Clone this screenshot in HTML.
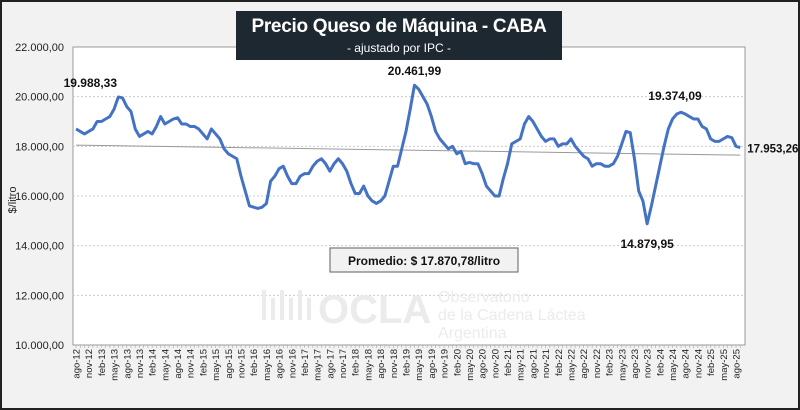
<!DOCTYPE html>
<html><head><meta charset="utf-8"><style>
body{margin:0;width:800px;height:410px;overflow:hidden;background:#fff;font-family:"Liberation Sans",sans-serif}
#frame{position:absolute;left:0;top:0;width:796px;height:406px;border:2px solid #222;background:#f2f2f2}
#title{position:absolute;left:236px;top:11px;width:326px;height:49px;background:#1e2830;color:#fff;text-align:center;z-index:3;white-space:nowrap}
#title .t{font-size:19px;font-weight:bold;margin-top:5px;letter-spacing:-0.3px}
#title .s{font-size:12px;margin-top:3px}
</style></head><body>
<div id="frame"></div>
<div id="title"><div class="t">Precio Queso de Máquina - CABA</div><div class="s">- ajustado por IPC -</div></div>
<svg id="c" width="800" height="410" style="position:absolute;left:0;top:0"></svg>
<script>
const values=[18700,18600,18500,18600,18700,19000,19000,19100,19200,19500,19988.33,19950,19600,19400,18700,18400,18500,18600,18500,18800,19200,18900,19000,19100,19150,18900,18900,18800,18800,18700,18500,18300,18700,18500,18300,17900,17700,17600,17500,16800,16200,15600,15550,15500,15550,15700,16600,16800,17100,17200,16800,16500,16500,16800,16900,16900,17200,17400,17500,17300,17000,17300,17500,17300,17000,16500,16100,16100,16400,16000,15800,15700,15800,16000,16600,17200,17200,17900,18600,19500,20461.99,20300,20000,19700,19200,18600,18300,18100,17900,18000,17700,17800,17300,17350,17300,17300,16900,16400,16200,16000,16000,16700,17300,18100,18200,18300,18900,19200,19000,18700,18400,18200,18300,18300,18000,18100,18100,18300,18000,17800,17600,17500,17200,17300,17300,17200,17200,17300,17600,18100,18600,18550,17500,16200,15800,14879.95,15600,16400,17200,18000,18700,19100,19300,19374.09,19300,19200,19100,19100,18800,18700,18300,18200,18200,18300,18400,18350,18000,17953.26];
const yTicks=[10000,12000,14000,16000,18000,20000,22000];
const monthNames=["ene","feb","mar","abr","may","jun","jul","ago","sep","oct","nov","dic"];
const callouts=[{i:10,t:"19.988,33",dx:-28,dy:-10,a:'middle'},{i:80,t:"20.461,99",dx:0,dy:-10,a:'middle'},{i:143,t:"19.374,09",dx:-6,dy:-12,a:'middle'},{i:135,t:"14.879,95",dx:0,dy:24,a:'middle'},{i:157,t:"17.953,26",dx:7,dy:5,a:'start'}];
const avg="Promedio: $ 17.870,78/litro";
const svg=document.getElementById('c'),NS="http://www.w3.org/2000/svg";
const X0=76,XS=(736-76)/156,Y0=345,YT=47;
const x=i=>X0+i*XS, y=v=>Y0-(v-10000)/12000*(Y0-YT);
function mk(t,a,p){const e=document.createElementNS(NS,t);for(const k in a)e.setAttribute(k,a[k]);(p||svg).appendChild(e);return e;}
const box=mk('rect',{x:73,y:YT,width:672,height:Y0-YT,fill:'#fff',stroke:'#999'});

const fmt=v=>v.toLocaleString('de-DE',{minimumFractionDigits:2,maximumFractionDigits:2});
yTicks.forEach(v=>{
 if(v>10000&&v<22000){const g=mk('line',{x1:73,x2:745,y1:y(v),y2:y(v),stroke:'#ccc','stroke-dasharray':'2,2'});}
 const t=mk('text',{x:64,y:y(v)+4,'text-anchor':'end','font-size':11,fill:'#222'});t.textContent=fmt(v);
 
});
const yt=mk('text',{transform:'translate(16,200) rotate(-90)','text-anchor':'middle','font-size':11,fill:'#222'});yt.textContent='$/litro';

const wm=mk('g',{fill:'#ebebeb'});
let w=mk('text',{x:318,y:323,'font-size':40,'font-weight':'bold'},wm);w.textContent='OCLA';
[["Observatorio",302],["de la Cadena Láctea",320],["Argentina",338]].forEach(([s,yy])=>{w=mk('text',{x:438,y:yy,'font-size':16},wm);w.textContent=s;});
for(let k=0;k<6;k++)mk('rect',{x:262+k*9,y:290+(k%2)*8,width:4,height:30-(k%2)*8},wm);
values.forEach((v,i)=>{
 mk('line',{x1:x(i),x2:x(i),y1:Y0,y2:Y0+3,stroke:'#aaa','stroke-width':0.6});
 if(i%3===0){const m=(7+i)%12,yr=12+Math.floor((7+i)/12);
 const t=mk('text',{transform:`translate(${x(i)+3.5},${Y0+4}) rotate(-90)`,'text-anchor':'end','font-size':9.5,fill:'#222'});
 t.textContent=monthNames[m]+'-'+yr;}
});
const n=values.length;let sx=0,sy=0,sxy=0,sxx=0;values.forEach((v,i)=>{sx+=i;sy+=v;sxy+=i*v;sxx+=i*i;});
const b=(n*sxy-sx*sy)/(n*sxx-sx*sx),a=(sy-b*sx)/n;
const tr=mk('line',{x1:x(0),y1:y(a),x2:x(n-1),y2:y(a+b*(n-1)),stroke:'#999','stroke-width':1});

const ln=mk('polyline',{points:values.map((v,i)=>x(i)+','+y(v)).join(' '),fill:'none',stroke:'#4472c4','stroke-width':3,'stroke-linejoin':'round'});

callouts.forEach(c=>{const t=mk('text',{x:x(c.i)+c.dx,y:y(values[c.i])+c.dy,'text-anchor':c.a,'font-size':c.a==='start'?11.5:12,'font-weight':'bold',fill:'#111'});t.textContent=c.t;
 });
const ab=mk('rect',{x:330,y:248,width:188,height:24,fill:'#f2f2f2',stroke:'#777','stroke-width':1.2});

const at=mk('text',{x:424,y:265,'text-anchor':'middle','font-size':12,'font-weight':'bold',fill:'#111'});at.textContent=avg;

</script>
</body></html>
